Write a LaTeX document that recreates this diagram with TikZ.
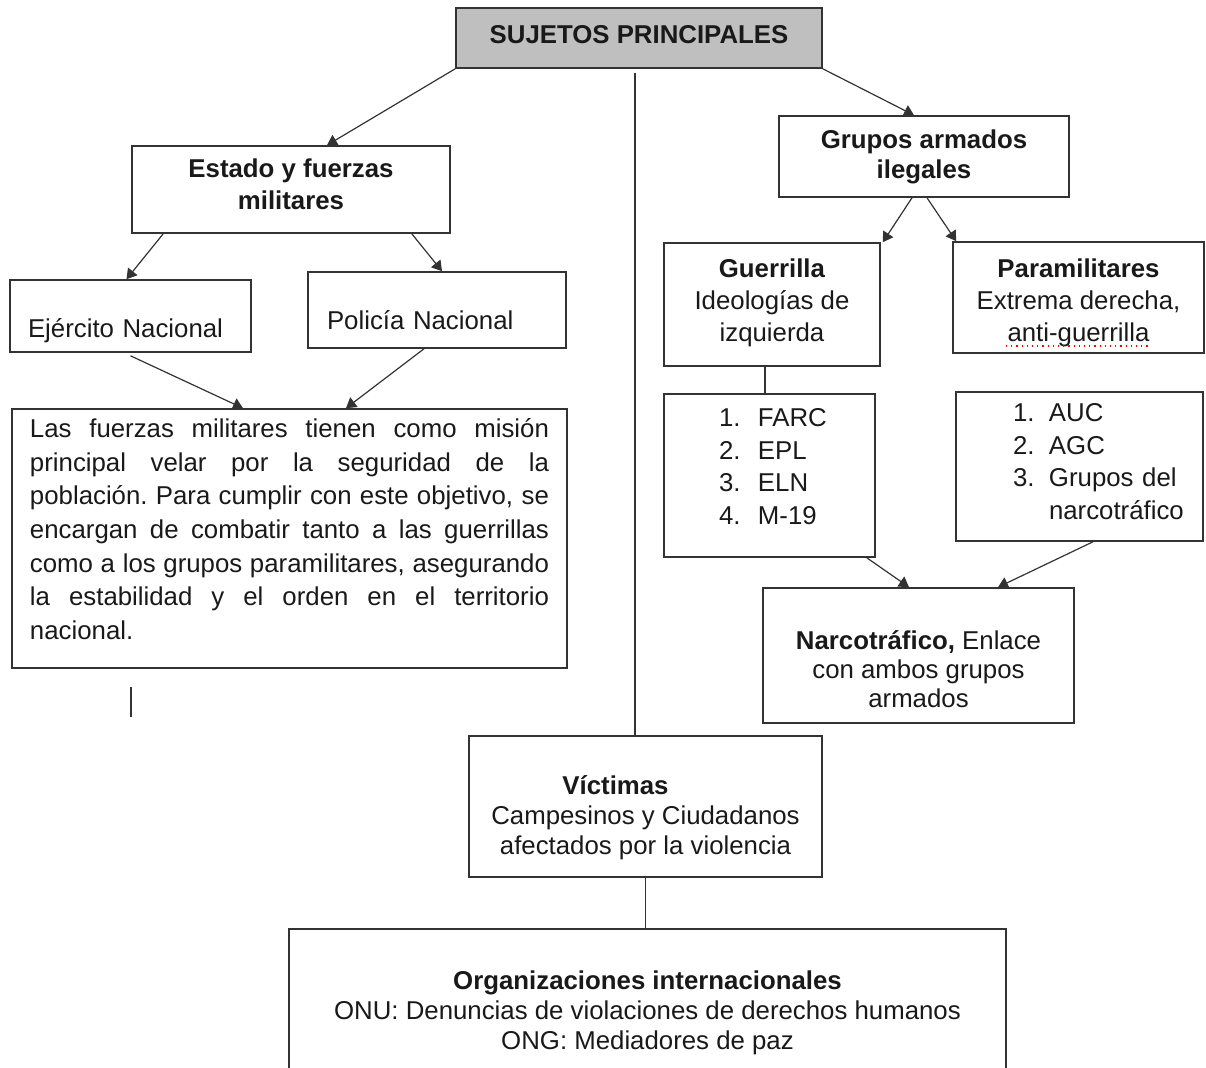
\documentclass[tikz,border=0pt]{standalone}
\usepackage{fontspec}
\setmainfont{Liberation Sans}
\usetikzlibrary{arrows.meta}
\tikzset{
  caja/.style={draw=black!80, line width=0.8pt, text=black!90, align=center},
  flecha/.style={draw=black!80, line width=0.6pt, -{Triangle[length=5pt,width=6pt]}},
  linea/.style={draw=black!80, line width=0.6pt},
}
\newcommand\jline[1]{\makebox[259.5pt][s]{#1}}
\newcommand\hueco[1]{\rule[-#1]{0pt}{#1}}
\newcommand\techo[1]{\rule{0pt}{#1}}

\begin{document}
\begin{tikzpicture}[x=0.5pt,y=-0.5pt]
\useasboundingbox (0,0) rectangle (1206,1068);
\clip (0,0) rectangle (1206,1068);

\node [caja,fill=black!25,minimum width=183pt,minimum height=30pt,font=\fontsize{12.9}{15}\selectfont\bfseries] (sujetos) at (639,38) {SUJETOS PRINCIPALES\hueco{3pt}};

\node [caja,minimum width=159pt,minimum height=43.5pt,font=\fontsize{12.9}{16}\selectfont\bfseries] (estado) at (291,189.5) {Estado y fuerzas\\militares\hueco{5.5pt}};
\node [caja,minimum width=145pt,minimum height=40.5pt,font=\fontsize{12.9}{15}\selectfont\bfseries] (grupos) at (924,156.5) {Grupos armados\\ilegales};

\node [caja,minimum width=120.5pt,minimum height=36pt,text width=102.5pt,align=left,inner ysep=2pt,text height=24pt,text depth=2pt,font=\fontsize{12.9}{15}\selectfont] (ejercito) at (130.5,316) {Ejército Nacional};
\node [caja,minimum width=129pt,minimum height=38pt,text width=110pt,align=left,inner ysep=2pt,text height=22pt,text depth=2pt,font=\fontsize{12.9}{15}\selectfont] (policia) at (437,310) {Policía Nacional};

\node [caja,minimum width=277.5pt,minimum height=129.5pt,text width=259.5pt,align=justify,font=\fontsize{12.9}{16.8}\selectfont] (las) at (289.5,538.5) {\jline{Las fuerzas militares tienen como misión}\\
  \jline{principal velar por la seguridad de la}\\
  \jline{población.\ Para cumplir con este objetivo, se}\\
  \jline{encargan de combatir tanto a las guerrillas}\\
  \jline{como a los grupos paramilitares, asegurando}\\
  \jline{la estabilidad y el orden en el territorio}\\
  nacional.\hueco{9.5pt}};

\node [caja,minimum width=108pt,minimum height=61.5pt,font=\fontsize{12.9}{16}\selectfont] (guerrilla) at (772,304.5) {\textbf{Guerrilla}\\Ideologías de\\izquierda\hueco{4pt}};
\node [caja,minimum width=125.5pt,minimum height=55.5pt,inner ysep=2pt,font=\fontsize{12.9}{16}\selectfont] (paramil) at (1078.5,297.5) {\techo{15pt}\textbf{Paramilitares}\\Extrema derecha,\\anti-guerrilla};

\node [caja,minimum width=105.5pt,minimum height=81.5pt,text width=50.5pt,align=left,font=\fontsize{12.9}{16.2}\selectfont] (farc) at (769.5,475.5) {\makebox[19.5pt][l]{1.}FARC\\\makebox[19.5pt][l]{2.}EPL\\\makebox[19.5pt][l]{3.}ELN\\\makebox[19.5pt][l]{4.}M-19\hueco{9pt}};
\node [caja,minimum width=123.5pt,minimum height=74.5pt,text width=66.5pt,align=left,font=\fontsize{12.9}{16.3}\selectfont] (auc) at (1079.5,466.5) {\makebox[18pt][l]{1.}AUC\\\makebox[18pt][l]{2.}AGC\\\makebox[18pt][l]{3.}\mbox{Grupos del}\\\hspace*{18pt}narcotráfico\hueco{5pt}};

\node [caja,minimum width=155.5pt,minimum height=67.5pt,font=\fontsize{12.9}{14.5}\selectfont] (narco) at (918.5,655.5) {\techo{23pt}\textbf{Narcotráfico,} Enlace\\con ambos grupos\\armados};

\node [caja,minimum width=176.5pt,minimum height=70.5pt,font=\fontsize{12.9}{15}\selectfont] (victimas) at (645.5,806.5) {\techo{21pt}\textbf{Víctimas}\hspace*{30pt}\\Campesinos y Ciudadanos\\afectados por la violencia};

\node [caja,minimum width=358.5pt,minimum height=84pt,font=\fontsize{12.9}{15}\selectfont] (org) at (647.5,1013) {\textbf{Organizaciones internacionales}\\ONU: Denuncias de violaciones de derechos humanos\\ONG: Mediadores de paz};

\draw [flecha] (sujetos.south west) -- ([xshift=18pt]estado.north);
\draw [flecha] (sujetos.south east) -- ([xshift=-5pt]grupos.north);
\draw [linea] ([xshift=-2pt,yshift=-2pt]sujetos.south) -- ([xshift=-2pt]sujetos.south |- victimas.north);

\draw [flecha] ([xshift=16pt]estado.south west) -- ([xshift=-2pt]ejercito.north);
\draw [flecha] ([xshift=-19.5pt]estado.south east) -- ([xshift=2.5pt]policia.north);
\draw [flecha] ([yshift=-1.5pt]ejercito.south) -- ([xshift=-23.25pt]las.north);
\draw [flecha] ([xshift=-6.5pt]policia.south) -- ([xshift=28.25pt]las.north);

\draw [flecha] ([xshift=-6pt]grupos.south) -- ([xshift=1pt]guerrilla.north east);
\draw [flecha] ([xshift=1.5pt]grupos.south) -- ([xshift=2pt]paramil.north west);
\draw [linea] ([xshift=-3.5pt]guerrilla.south) -- ([xshift=-3.5pt]guerrilla.south |- farc.north);
\draw [flecha] ([xshift=-4.5pt]farc.south east) -- ([xshift=-4.75pt]narco.north);
\draw [flecha] ([xshift=6.75pt]auc.south) -- ([xshift=39.75pt]narco.north);

\draw [linea] (victimas.south) -- (victimas.south |- org.north);
\draw [linea] (131,687) -- (131,717);
\draw [red,dotted,line width=0.6pt] (1006,346) -- (1150,346);
\end{tikzpicture}
\end{document}
